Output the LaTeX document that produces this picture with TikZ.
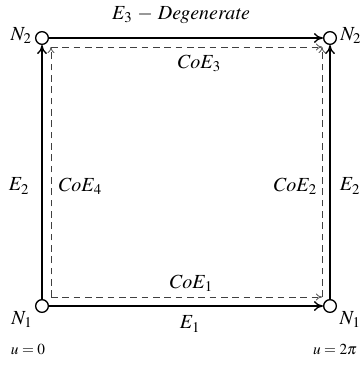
\documentclass[tikz,border=0pt]{standalone}
\usepackage{mathptmx}
\usepackage{fontspec}
\setmainfont{Liberation Serif}
\usetikzlibrary{arrows.meta,positioning}

\begin{document}
\begin{tikzpicture}[x=0.75pt,y=-0.75pt,every node/.style={font=\fontsize{15}{18}\selectfont}]
\tikzstyle{vtx}=[circle,draw,fill=white,line width=1pt,minimum size=9.5pt,inner sep=0]
\tikzstyle{edge}=[line width=1pt,-{To[length=2.4mm,width=2.6mm]}]
\tikzstyle{coedge}=[line width=0.55pt,dashed,dash pattern=on 5pt off 3.5pt,draw=black!75,-{To[length=1.6mm,width=1.8mm]}]
\useasboundingbox (0,0) rectangle (364,382);
% vertices
\node[vtx] (n2l) at (42,38)  {};
\node[vtx] (n2r) at (330,38) {};
\node[vtx] (n1l) at (42,306) {};
\node[vtx] (n1r) at (330,306){};
\node[left=-1pt of n2l,yshift=2pt] (ln2l) {$N_2$};
\node[right=-1pt of n2r,yshift=2pt] (ln2r) {$N_2$};
\node[below left=-3pt and 0pt of n1l] (ln1l) {$N_1$};
\node[below right=-3pt and 0pt of n1r] (ln1r) {$N_1$};
\node[font=\fontsize{11.5}{13}\selectfont] (u0) at (28,349) {$u=0$};
\node[font=\fontsize{11.5}{13}\selectfont] (u2pi) at (335,349) {$u=2\pi$};
% edges
\draw[edge] (n1l) -- (n2l);
\draw[edge] (n2l) -- (n2r);
\draw[edge] (n1r) -- (n2r);
\draw[edge] (n1l) -- (n1r);
\node[inner sep=1pt] (e3) at (181,15) {$E_3\,-\,\mathit{Degenerate}$};
\node (e1) at (190,324) {$E_1$};
\node (e2l) at (19,186) {$E_2$};
\node (e2r) at (350,186) {$E_2$};
% co-edges
\coordinate (c1) at (51,297);
\coordinate (c2) at (322,297);
\coordinate (c3) at (322,47);
\coordinate (c4) at (51,47);
\draw[coedge] (c1) -- (c2);
\draw[coedge] (c2) -- (c3);
\draw[coedge] (c4) -- (c3);
\draw[coedge] (c1) -- (c4);
\node (ce1) at (191,283) {$\mathit{CoE}_1$};
\node (ce2) at (295,186) {$\mathit{CoE}_2$};
\node (ce3) at (199,63) {$\mathit{CoE}_3$};
\node (ce4) at (80,186) {$\mathit{CoE}_4$};
\end{tikzpicture}
\end{document}
